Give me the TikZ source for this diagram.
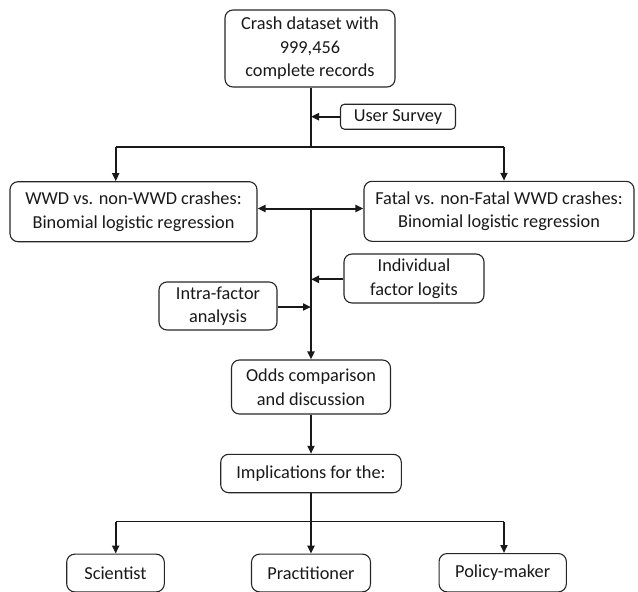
\documentclass[tikz,border=0pt]{standalone}
\usepackage{fontspec}
\setmainfont{Carlito}
\usetikzlibrary{arrows.meta,positioning}
\begin{document}
\begin{tikzpicture}[x=1pt,y=-1pt,
  box/.style={draw=black!85,line width=1.1pt,rounded corners=8pt,align=center,
    inner sep=0pt,text=black!90,font=\fontsize{18.3}{23.5}\selectfont},
  conn/.style={draw=black!90,line width=2pt,-{Triangle[length=8pt,width=7pt]}},
  plain/.style={draw=black!90,line width=2pt},
  thin/.style={draw=black!90,line width=1.3pt}]
\useasboundingbox (0,0) rectangle (638,592);
\node[box,minimum width=170pt,minimum height=77pt] (top) at (310,48.5) {Crash dataset with\\999,456\\complete records};
\node[box,rounded corners=4pt,minimum width=115pt,minimum height=25pt] (survey) at (398,116.7) {User Survey};
\node[box,minimum width=247pt,minimum height=60pt] (left) at (133.5,211.7) {WWD vs. non-WWD crashes:\\Binomial logistic regression};
\node[box,minimum width=270pt,minimum height=60pt] (right) at (499,211.3) {Fatal vs. non-Fatal WWD crashes:\\Binomial logistic regression};
\node[box,minimum width=140pt,minimum height=49pt] (indiv) at (414,278.5) {Individual\\factor logits};
\node[box,minimum width=118pt,minimum height=48pt] (intra) at (218,306) {Intra-factor\\analysis};
\node[box,minimum width=159pt,minimum height=54pt] (odds) at (311,387) {Odds comparison\\and discussion};
\node[box,minimum width=180.6pt,minimum height=38.4pt] (impl) at (311,473.5) {Implications for the:};
\node[box,minimum width=97.6pt,minimum height=37.7pt] (sci) at (115.5,573) {Scientist};
\node[box,minimum width=119pt,minimum height=37.7pt] (prac) at (311,573) {Practitioner};
\node[box,minimum width=127.3pt,minimum height=38.3pt] (pol) at (502.7,572.7) {Policy-maker};
% top split
\coordinate (s1) at (311,116.7);
\coordinate (j0) at (311,146.7);
\coordinate (dl) at (115.7,146.7);
\coordinate (dr) at (504,146.7);
\draw[plain] (top.south -| j0) -- (j0);
\draw[conn] (survey.west) -- (s1);
\draw[plain] (dl) -- (dr);
\draw[conn] (dl) -- (dl |- left.north);
\draw[conn] (dr) -- (dr |- right.north);
% middle spine
\coordinate (j1) at (311,208.5);
\draw[conn,{Triangle[length=8pt,width=7pt]}-{Triangle[length=8pt,width=7pt]}] (left.east |- j1) -- (right.west |- j1);
\draw[conn] (j1) -- (j1 |- odds.north);
\draw[conn] (indiv.west |- 0,279.3) -- (311,279.3);
\draw[conn] (intra.east |- 0,307) -- (311,307);
\draw[conn] (odds.south -| j1) -- (j1 |- impl.north);
% bottom split
\coordinate (j2) at (311,521.7);
\coordinate (bl) at (115.7,521.7);
\coordinate (br) at (504,521.7);
\draw[thin] (impl.south -| j2) -- (j2);
\draw[thin] (bl) -- (br);
\draw[conn] (bl) -- (bl |- sci.north);
\draw[conn] (j2) -- (j2 |- prac.north);
\draw[conn] (br) -- (br |- pol.north);
\end{tikzpicture}
\end{document}
